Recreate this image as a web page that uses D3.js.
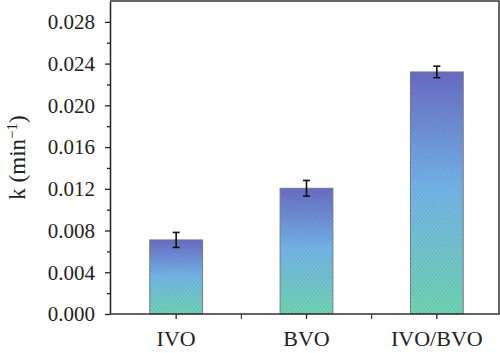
<!DOCTYPE html>
<html>
<head>
<meta charset="utf-8">
<script src="https://cdn.jsdelivr.net/npm/d3@7"></script>
<style>
  body { margin: 0; background: #fff; }
  text { font-family: "Liberation Serif", "DejaVu Serif", serif; fill: #222; }
</style>
</head>
<body>
<svg id="chart"></svg>
<script>
const WIDTH = 500,
    HEIGHT = 353;

// data
const categories = ['IVO', 'BVO', 'IVO/BVO'];
const rateValues = [0.0071, 0.01205, 0.0232];
const rateErrors = [0.00072, 0.00075, 0.00055];
const yTicks = [0, 0.004, 0.008, 0.012, 0.016, 0.020, 0.024, 0.028];

const margin = { left: 110, right: 1, top: 1, bottom: 39 };
const SERIF = '"Liberation Serif", "DejaVu Serif", serif';

const svg = d3.select('svg#chart')
    .attr('width', WIDTH)
    .attr('height', HEIGHT);

const x = d3.scaleBand()
    .domain(categories)
    .range([margin.left + 1, margin.left + 392]);

const y = d3.scaleLinear()
    .domain([0, 0.030])
    .range([HEIGHT - margin.bottom, margin.top]);

const barWidth = x.bandwidth() * 0.405;

// fills: vertical gradient per bar plus a fine diagonal hatch
const defs = svg.append('defs');

const grad = defs.append('linearGradient')
    .attr('id', 'barGrad')
    .attr('x1', 0).attr('y1', 0)
    .attr('x2', 0).attr('y2', 1);
grad.append('stop').attr('offset', '0%').attr('stop-color', '#6a6cc4');
grad.append('stop').attr('offset', '48%').attr('stop-color', '#74b6e8');
grad.append('stop').attr('offset', '100%').attr('stop-color', '#70d6b2');

const hatch = defs.append('pattern')
    .attr('id', 'hatch')
    .attr('patternUnits', 'userSpaceOnUse')
    .attr('width', 2.8)
    .attr('height', 2.8)
    .attr('patternTransform', 'rotate(-40)');
hatch.append('rect')
    .attr('x', 0).attr('y', 0)
    .attr('width', 0.9).attr('height', 2.8)
    .attr('fill', 'rgba(30, 40, 90, 0.13)');

const bars = svg.append('g')
    .attr('class', 'bars')
    .selectAll('g')
    .data(categories.map((c, i) => ({ cat: c, value: rateValues[i], err: rateErrors[i] })))
    .enter().append('g');

const cx = d => x(d.cat) + x.bandwidth() / 2;

bars.append('rect')
    .attr('x', d => cx(d) - barWidth / 2)
    .attr('y', d => y(d.value))
    .attr('width', barWidth)
    .attr('height', d => y(0) - y(d.value))
    .attr('fill', 'url(#barGrad)');

bars.append('rect')
    .attr('x', d => cx(d) - barWidth / 2)
    .attr('y', d => y(d.value))
    .attr('width', barWidth)
    .attr('height', d => y(0) - y(d.value))
    .attr('fill', 'url(#hatch)')
    .attr('stroke', '#737a8a')
    .attr('stroke-width', 1);

// error bars
const errG = bars.append('g')
    .attr('stroke', '#111')
    .attr('stroke-width', 1.6);
errG.append('line')
    .attr('x1', cx).attr('x2', cx)
    .attr('y1', d => y(d.value + d.err))
    .attr('y2', d => y(d.value - d.err));
errG.append('line')
    .attr('x1', d => cx(d) - 3.5).attr('x2', d => cx(d) + 3.5)
    .attr('y1', d => y(d.value + d.err))
    .attr('y2', d => y(d.value + d.err));
errG.append('line')
    .attr('x1', d => cx(d) - 3.5).attr('x2', d => cx(d) + 3.5)
    .attr('y1', d => y(d.value - d.err))
    .attr('y2', d => y(d.value - d.err));

// y axis with minor ticks
const yAxis = svg.append('g')
    .attr('transform', `translate(${margin.left},0)`)
    .call(d3.axisLeft(y)
        .tickValues(yTicks)
        .tickFormat(d3.format('.3f'))
        .tickSize(5)
        .tickPadding(10)
        .tickSizeOuter(0));
yAxis.attr('font-family', SERIF).attr('font-size', 21);

svg.append('g')
    .attr('transform', `translate(${margin.left},0)`)
    .call(d3.axisLeft(y)
        .tickValues(d3.range(0.002, 0.030, 0.004))
        .tickFormat('')
        .tickSize(3)
        .tickSizeOuter(0))
    .select('.domain').remove();

// x axis, labelled ticks at centres and plain ticks between
const xAxis = svg.append('g')
    .attr('transform', `translate(0,${y(0)})`)
    .call(d3.axisBottom(x)
        .tickSize(5)
        .tickPadding(11)
        .tickSizeOuter(0));
xAxis.select('.domain').remove();
xAxis.attr('font-family', SERIF).attr('font-size', 22);

svg.append('g')
    .attr('transform', `translate(0,${y(0)})`)
    .selectAll('line')
    .data(categories.slice(1))
    .enter().append('line')
        .attr('x1', d => x(d))
        .attr('x2', d => x(d))
        .attr('y1', 0)
        .attr('y2', 5)
        .attr('stroke', '#222');

svg.selectAll('.tick line').attr('stroke', '#222').attr('stroke-width', 1.3);
svg.selectAll('.tick text').attr('fill', '#222');
svg.selectAll('.domain').attr('stroke', '#222').attr('stroke-width', 1.5);

// frame
svg.append('path')
    .attr('d', `M${margin.left},${y(0)}H${WIDTH - margin.right}V${margin.top}H${margin.left}`)
    .attr('fill', 'none')
    .attr('stroke', '#333')
    .attr('stroke-width', 1.5);

// y label
svg.append('text')
    .attr('transform', `translate(25,${(y(0) + margin.top) / 2}) rotate(-90)`)
    .attr('text-anchor', 'middle')
    .attr('font-size', 23)
    .html('k (min<tspan dy="-8" font-size="15">−1</tspan><tspan dy="8">)</tspan>');
</script>
</body>
</html>
